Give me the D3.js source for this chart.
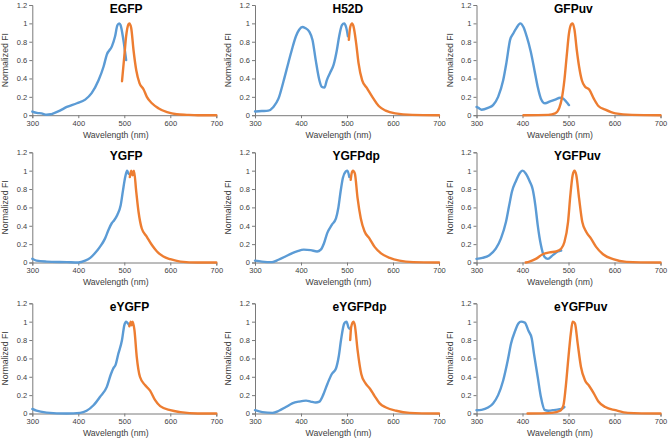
<!DOCTYPE html>
<html><head><meta charset="utf-8">
<script src="https://cdn.jsdelivr.net/npm/d3@7"></script>
<style>
html,body{margin:0;padding:0;background:#fff;}
svg{display:block;font-family:"Liberation Sans",Arial,sans-serif;}
</style></head>
<body>
<svg id="chart" width="668" height="441"></svg>
<script>
// ---- data ----
const titles = ["EGFP","H52D","GFPuv","YGFP","YGFPdp","YGFPuv","eYGFP","eYGFPdp","eYGFPuv"];
const xTicks = [300,400,500,600,700];
const yTicks = [0,0.2,0.4,0.6,0.8,1,1.2];
const xTitle = "Wavelength (nm)";
const yTitle = "Normalized FI";

const EGFP_ex = [[300,0.04],[310,0.025],[320,0.02],[331,0.005],[340,0.01],[346,0.02],[360,0.05],[375,0.09],[397,0.13],[415,0.17],[429,0.24],[444,0.38],[455,0.53],[462,0.66],[473,0.75],[480,0.86],[485,0.98],[489,1.0],[492,0.98],[498,0.82],[504,0.6]];
const EGFP_em = [[495,0.37],[500,0.64],[504,0.86],[509,0.99],[511,1.0],[515,0.95],[520,0.71],[526,0.49],[533,0.35],[542,0.28],[549,0.2],[560,0.13],[574,0.076],[593,0.033],[614,0.01],[636,0.004],[660,0],[700,0]];
const H52D_ex = [[300,0.04],[315,0.045],[329,0.05],[340,0.09],[351,0.18],[362,0.37],[373,0.58],[380,0.71],[389,0.86],[396,0.93],[403,0.96],[409,0.95],[418,0.91],[425,0.82],[432,0.6],[440,0.38],[445,0.31],[451,0.30],[456,0.38],[464,0.47],[471,0.55],[478,0.71],[483,0.86],[489,0.98],[494,1.0],[498,0.96],[502,0.86]];
const H52D_em = [[504,0.82],[507,0.96],[511,1.0],[514,0.97],[520,0.78],[525,0.57],[533,0.38],[544,0.29],[555,0.2],[569,0.1],[584,0.05],[605,0.02],[642,0.004],[700,0]];
const GFPuv_ex = [[300,0.09],[304,0.08],[311,0.06],[325,0.08],[336,0.11],[347,0.2],[358,0.38],[365,0.57],[373,0.82],[380,0.89],[387,0.95],[395,1.0],[402,0.96],[409,0.86],[418,0.69],[426,0.49],[433,0.31],[440,0.18],[449,0.13],[460,0.15],[471,0.17],[482,0.19],[489,0.18],[496,0.14],[501,0.11]];
const GFPuv_em = [[402,0],[456,0.004],[471,0.02],[480,0.08],[485,0.17],[491,0.38],[496,0.64],[501,0.89],[506,0.99],[509,1.0],[513,0.93],[518,0.71],[523,0.53],[529,0.38],[536,0.31],[545,0.28],[555,0.18],[565,0.1],[580,0.06],[602,0.02],[638,0.004],[700,0]];
const YGFP_ex = [[300,0.04],[309,0.02],[331,0.01],[375,0.004],[400,0],[415,0.02],[426,0.05],[436,0.1],[447,0.17],[458,0.26],[466,0.36],[473,0.43],[478,0.46],[485,0.52],[492,0.62],[497,0.78],[502,0.93],[506,1.0],[509,0.97],[512,0.96]];
const YGFP_em = [[512,0.93],[515,1.0],[518,0.95],[521,1.0],[526,0.77],[531,0.55],[538,0.37],[549,0.28],[560,0.19],[571,0.12],[585,0.065],[600,0.036],[622,0.01],[660,0],[700,0]];
const YGFPdp_ex = [[300,0.02],[315,0.01],[337,0.004],[351,0.03],[366,0.065],[380,0.1],[391,0.12],[406,0.14],[421,0.135],[435,0.12],[443,0.14],[450,0.21],[457,0.32],[467,0.41],[476,0.48],[481,0.59],[486,0.77],[491,0.92],[497,0.99],[501,1.0],[505,0.93]];
const YGFPdp_em = [[508,0.9],[510,0.97],[513,1.0],[517,0.97],[523,0.7],[530,0.48],[538,0.34],[549,0.26],[560,0.17],[574,0.1],[593,0.05],[614,0.02],[644,0.004],[700,0]];
const YGFPuv_ex = [[300,0.04],[313,0.05],[328,0.08],[342,0.15],[353,0.26],[364,0.44],[371,0.62],[377,0.77],[386,0.89],[395,0.98],[400,1.0],[407,0.97],[416,0.88],[422,0.8],[428,0.62],[433,0.41],[440,0.19],[448,0.06],[455,0.04],[466,0.08],[477,0.12],[484,0.13]];
const YGFPuv_em = [[407,0],[415,0.01],[429,0.04],[444,0.09],[459,0.11],[473,0.12],[484,0.15],[491,0.22],[499,0.44],[504,0.73],[509,0.95],[513,1.0],[517,0.95],[523,0.7],[530,0.44],[539,0.33],[549,0.26],[560,0.17],[575,0.09],[597,0.036],[626,0.007],[700,0]];
const eYGFP_ex = [[300,0.05],[309,0.03],[331,0.01],[375,0],[404,0.007],[418,0.03],[433,0.09],[447,0.18],[462,0.29],[471,0.43],[476,0.49],[481,0.53],[487,0.65],[495,0.8],[500,0.96],[504,1.0],[508,0.98],[511,0.96]];
const eYGFP_em = [[511,0.95],[514,1.0],[516,0.96],[518,1.0],[522,0.91],[527,0.62],[534,0.4],[545,0.31],[556,0.25],[567,0.145],[578,0.08],[600,0.036],[622,0.015],[660,0],[700,0]];
const eYGFPdp_ex = [[300,0.036],[316,0.015],[338,0.007],[352,0.03],[367,0.07],[381,0.11],[396,0.13],[411,0.14],[421,0.13],[432,0.12],[440,0.13],[448,0.2],[458,0.33],[467,0.43],[476,0.49],[482,0.62],[487,0.8],[494,0.98],[499,1.0],[503,0.94],[507,0.92]];
const eYGFPdp_em = [[507,0.8],[509,0.94],[514,1.0],[517,0.96],[523,0.69],[531,0.43],[540,0.33],[550,0.27],[560,0.19],[571,0.11],[585,0.065],[607,0.03],[636,0.007],[700,0]];
const eYGFPuv_ex = [[300,0.036],[311,0.04],[325,0.065],[336,0.11],[347,0.2],[358,0.36],[368,0.58],[375,0.76],[384,0.9],[391,0.98],[397,1.0],[405,0.99],[413,0.9],[420,0.82],[425,0.65],[433,0.4],[440,0.18],[448,0.04],[456,0.03],[471,0.04],[485,0.05],[491,0.07]];
const eYGFPuv_em = [[411,0],[464,0.007],[482,0.03],[489,0.09],[494,0.29],[500,0.62],[505,0.87],[509,1.0],[514,0.98],[520,0.76],[527,0.51],[536,0.36],[545,0.3],[555,0.22],[565,0.13],[580,0.07],[602,0.036],[629,0.007],[700,0]];

const excitation = [EGFP_ex,H52D_ex,GFPuv_ex,YGFP_ex,YGFPdp_ex,YGFPuv_ex,eYGFP_ex,eYGFPdp_ex,eYGFPuv_ex];
const emission = [EGFP_em,H52D_em,GFPuv_em,YGFP_em,YGFPdp_em,YGFPuv_em,eYGFP_em,eYGFPdp_em,eYGFPuv_em];

// ---- layout ----
const colLeft = [32.3, 255, 476.5];
const plotW = 184;
const rowTop = [5, 152.3, 303.3];
const plotH = 110.2;
const exColor = "#5b9bd5", emColor = "#ed7d31";
const axisColor = "#7a7a7a", textColor = "#404040";

const svg = d3.select("#chart");

titles.forEach((t, i) => {
  const c = i % 3, r = Math.floor(i / 3);
  const x = d3.scaleLinear().domain([300,700]).range([colLeft[c], colLeft[c] + plotW]);
  const y = d3.scaleLinear().domain([0,1.2]).range([rowTop[r] + plotH, rowTop[r]]);
  const g = svg.append("g");

  // axes
  const xa = g.append("g").attr("transform", `translate(0,${y(0)})`)
    .call(d3.axisBottom(x).tickValues(xTicks).tickSize(3).tickPadding(2).tickFormat(d3.format("d")));
  const ya = g.append("g").attr("transform", `translate(${x(300)},0)`)
    .call(d3.axisLeft(y).tickValues(yTicks).tickSize(3).tickPadding(2).tickFormat(d => d3.format("")(+d.toFixed(1))));
  [xa, ya].forEach(a => {
    a.select(".domain").attr("stroke", axisColor).attr("stroke-width", 1);
    a.selectAll(".tick line").attr("stroke", axisColor);
    a.selectAll(".tick text").attr("fill", textColor).style("font-size", "7.5px")
      .style("font-family", "'Liberation Sans', Arial, sans-serif");
  });

  const line = d3.line().x(d => x(d[0])).y(d => y(d[1])).curve(d3.curveMonotoneX);
  g.append("path").datum(excitation[i]).attr("d", line)
    .attr("fill", "none").attr("stroke", exColor).attr("stroke-width", 2.4)
    .attr("stroke-linejoin", "round").attr("stroke-linecap", "round");
  g.append("path").datum(emission[i]).attr("d", line)
    .attr("fill", "none").attr("stroke", emColor).attr("stroke-width", 2.4)
    .attr("stroke-linejoin", "round").attr("stroke-linecap", "round");

  // title
  g.append("text").attr("x", colLeft[c] + 77.5).attr("y", rowTop[r] + 7.6)
    .attr("font-size", 12).attr("font-weight", "bold").attr("fill", "#000").text(t);
  // x title
  g.append("text").attr("x", colLeft[c] + 83.5).attr("y", y(0) + 22.8)
    .attr("text-anchor", "middle").attr("font-size", 8.7).attr("fill", textColor).text(xTitle);
  // y title
  const yc = rowTop[r] + plotH / 2;
  g.append("text").attr("transform", `translate(${colLeft[c] - 24},${yc}) rotate(-90)`)
    .attr("text-anchor", "middle").attr("font-size", 8.7).attr("fill", textColor).text(yTitle);
});
</script>
</body></html>
